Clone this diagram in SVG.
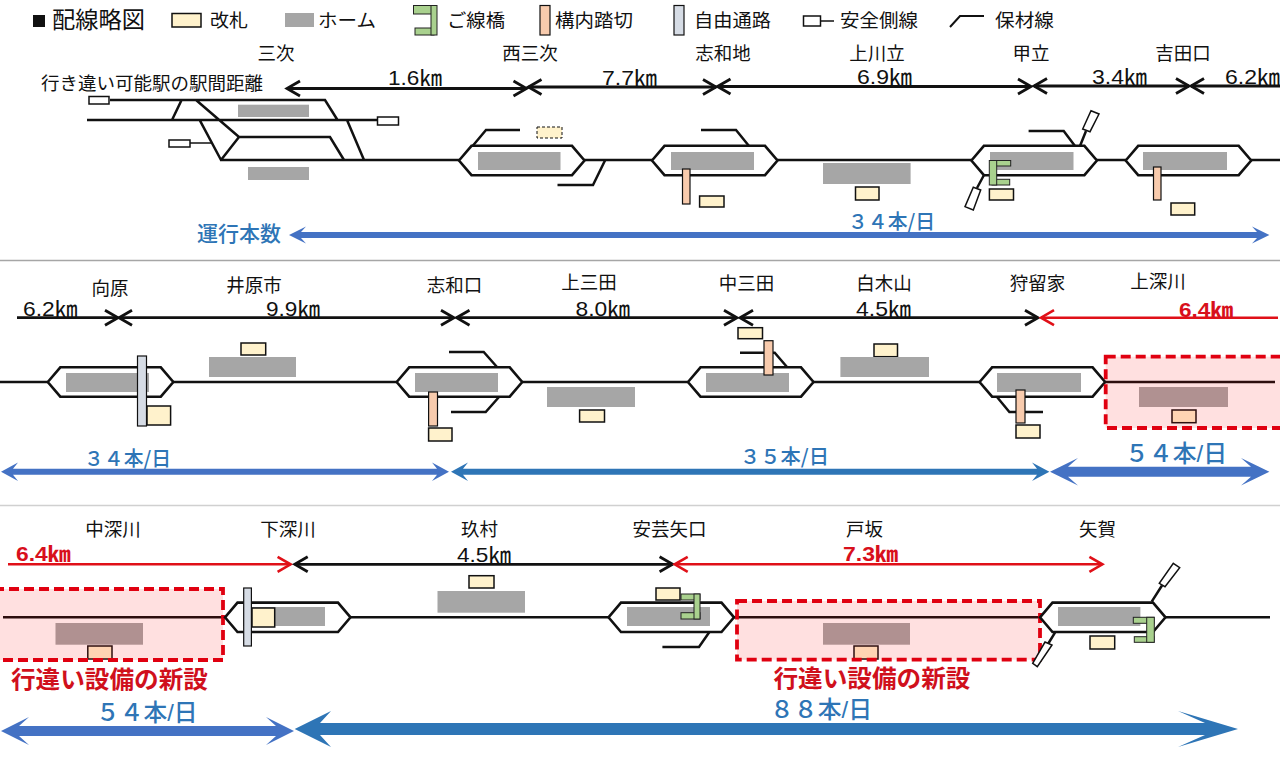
<svg xmlns="http://www.w3.org/2000/svg" width="1280" height="761" viewBox="0 0 1280 761">
<style>
text{font-family:"Noto Sans CJK JP","Noto Sans",sans-serif;fill:#111}
.st{font-size:18.5px;text-anchor:middle}
.lg{font-size:18.5px}
.km{font-family:"Liberation Sans","Noto Sans CJK JP",sans-serif;font-size:21px}
.red{fill:#d8101c;font-weight:700}
.rn{fill:#2e75b6;font-size:20px;font-weight:500}
.rb{font-family:"Liberation Sans","Noto Sans CJK JP",sans-serif;fill:#2e75b6;font-size:24px;font-weight:500}
.new{fill:#d0101c;font-size:24px;font-weight:700}
.tk{fill:#fff2cc;stroke:#111;stroke-width:1.5}
.pf{fill:#a6a6a6}
.cr{fill:#f8cbad;stroke:#111;stroke-width:1.2}
.wk{fill:#d6dce5;stroke:#111;stroke-width:1.2}
.br{fill:#a9d18e;stroke:#222;stroke-width:1}
.hx{fill:#fff;stroke:#111;stroke-width:2.6;stroke-linejoin:miter}
.tr{fill:none;stroke:#111;stroke-width:2.5}
.sf{fill:#fff;stroke:#111;stroke-width:1.5}
.dk{fill:none;stroke:#111;stroke-width:2.8}
.dr{fill:none;stroke:#e01018;stroke-width:2.6}
.nw{fill:#ff0000;fill-opacity:.12;stroke:#e00010;stroke-width:3.8;stroke-dasharray:10 5}
.b1{fill:#4472c4}
.b2{fill:#2e75b6}
.dv{stroke-width:1.5;fill:none}
</style>
<defs>
<marker id="ak" markerUnits="userSpaceOnUse" markerWidth="18" markerHeight="20" refX="15" refY="10" orient="auto-start-reverse" viewBox="0 0 18 20"><path d="M2,2.500L15,10L2,17.500" fill="none" stroke="#111" stroke-width="2.8"/></marker>
<marker id="ar" markerUnits="userSpaceOnUse" markerWidth="18" markerHeight="20" refX="15" refY="10" orient="auto-start-reverse" viewBox="0 0 18 20"><path d="M2,2.500L15,10L2,17.500" fill="none" stroke="#e01018" stroke-width="2.6"/></marker>
<polygon id="hex" class="hx" points="0,0 12.5,-14.7 113,-14.7 125.5,0 113,14.7 12.5,14.7"/>
</defs>
<rect width="1280" height="761" fill="#fff"/>
<path class="dv" stroke="#a6a6a6" d="M0,260.500H1280"/>
<path class="dv" stroke="#d0d0d0" d="M0,505.500H1280"/>

<g id="legend">
<rect x="33" y="15" width="12" height="12" fill="#111"/>
<text x="52" y="28" font-size="23" textLength="93" lengthAdjust="spacingAndGlyphs">配線略図</text>
<rect class="tk" x="172" y="13.500" width="29" height="13.500"/>
<text class="lg" x="210" y="27" textLength="38" lengthAdjust="spacingAndGlyphs">改札</text>
<rect class="pf" x="285" y="13" width="29" height="14"/>
<text class="lg" x="318" y="27" textLength="58" lengthAdjust="spacingAndGlyphs">ホーム</text>
<rect class="br" x="413.500" y="5.500" width="20.500" height="8.500"/>
<rect class="br" x="415" y="28" width="19" height="7"/>
<rect class="br" x="431" y="5.500" width="6" height="29.500"/>
<text class="lg" x="447" y="27" textLength="58" lengthAdjust="spacingAndGlyphs">ご線橋</text>
<rect class="cr" x="540" y="5.500" width="10" height="29.500" stroke-width="2"/>
<text class="lg" x="555" y="27" textLength="78" lengthAdjust="spacingAndGlyphs">構内踏切</text>
<rect class="wk" x="674" y="5.500" width="10" height="29.500" stroke-width="2"/>
<text class="lg" x="694" y="27" textLength="77" lengthAdjust="spacingAndGlyphs">自由通路</text>
<rect x="803.500" y="16" width="17" height="10" fill="#fff" stroke="#111" stroke-width="1.5"/>
<path d="M820,21H834" stroke="#111" stroke-width="1.5"/>
<text class="lg" x="840" y="27" textLength="78" lengthAdjust="spacingAndGlyphs">安全側線</text>
<path d="M950,27L960,16H984" fill="none" stroke="#111" stroke-width="2"/>
<text class="lg" x="995" y="27" textLength="59" lengthAdjust="spacingAndGlyphs">保材線</text>
</g>

<g id="connectors">
<path class="tr" d="M0,382H1275"/>
<path class="tr" d="M3,617.300H1270"/>
<path class="tr" d="M220,160H1280"/>
<path class="tr" d="M110,100H325L337.500,120M87,120H377M181.600,100L172,120M196,100L239,137H330L344,160M239,137L221,160M200,120.700L221,160M347,120L364,160"/>
<path d="M190,143H211" stroke="#111" stroke-width="1.5"/>
<path class="dk" marker-start="url(#ak)" marker-end="url(#ak)" d="M287,88.500H526.500"/>
<path class="dk" marker-start="url(#ak)" marker-end="url(#ak)" d="M528.500,87H716"/>
<path class="dk" marker-start="url(#ak)" marker-end="url(#ak)" d="M717.500,86.500H1031"/>
<path class="dk" marker-start="url(#ak)" marker-end="url(#ak)" d="M1034,86H1189"/>
<path class="dk" marker-start="url(#ak)" d="M1191,86H1280"/>
<path class="dk" marker-end="url(#ak)" d="M17,317.700H118"/>
<path class="dk" marker-start="url(#ak)" marker-end="url(#ak)" d="M119,317.700H454"/>
<path class="dk" marker-start="url(#ak)" marker-end="url(#ak)" d="M456.500,317.700H737"/>
<path class="dk" marker-start="url(#ak)" marker-end="url(#ak)" d="M740,317.700H1038"/>
<path class="dr" marker-start="url(#ar)" d="M1041,317.700H1278"/>
<path class="dr" marker-end="url(#ar)" d="M8,564.300H290.600"/>
<path class="dk" marker-start="url(#ak)" marker-end="url(#ak)" d="M294.700,564.300H672.600"/>
<path class="dr" marker-start="url(#ar)" marker-end="url(#ar)" d="M674.700,564.300H1102.400"/>
<polygon class="b1" points="289,235 306,226.500 301,232 1257,232 1252,226.500 1269.400,235 1252,243.500 1257,238 301,238 306,243.500"/>
<polygon class="b1" points="1,471.700 18,462.500 13,468.700 437,468.700 432,462.500 449,471.700 432,481 437,474.700 13,474.700 18,481"/>
<polygon class="b2" points="451,471.700 468,462.500 463,468.700 1037,468.700 1032,462.500 1049.400,471.700 1032,481 1037,474.700 463,474.700 468,481"/>
<polygon class="b1" points="1050,471.700 1078,458 1068,466.700 1251,466.700 1241,458 1269.400,471.700 1241,485.500 1251,476.700 1068,476.700 1078,485.500"/>
<polygon class="b1" points="1,731 29,717 19,726 276,726 266,717 294,731 266,745 276,736 19,736 29,745"/>
<polygon class="b2" points="294.700,729 331,711 320,723 1205,723 1178,711 1238,729 1178,747 1205,735 320,735 331,747"/>
</g>

<g id="labels">
<text x="41" y="90" font-size="18.500" textLength="222" lengthAdjust="spacingAndGlyphs">行き違い可能駅の駅間距離</text>
<text class="km" x="388" y="84.500" textLength="54" lengthAdjust="spacingAndGlyphs">1.6㎞</text>
<text class="km" x="602" y="84.500" textLength="55" lengthAdjust="spacingAndGlyphs">7.7㎞</text>
<text class="km" x="857" y="84" textLength="55" lengthAdjust="spacingAndGlyphs">6.9㎞</text>
<text class="km" x="1092" y="84" textLength="55" lengthAdjust="spacingAndGlyphs">3.4㎞</text>
<text class="km" x="1225" y="84" textLength="55" lengthAdjust="spacingAndGlyphs">6.2㎞</text>
<text class="km" x="23" y="316" textLength="54.500" lengthAdjust="spacingAndGlyphs">6.2㎞</text>
<text class="km" x="266" y="316" textLength="54" lengthAdjust="spacingAndGlyphs">9.9㎞</text>
<text class="km" x="575.500" y="316" textLength="54.500" lengthAdjust="spacingAndGlyphs">8.0㎞</text>
<text class="km" x="856" y="316" textLength="55" lengthAdjust="spacingAndGlyphs">4.5㎞</text>
<text class="km red" x="1179" y="317" textLength="54" lengthAdjust="spacingAndGlyphs">6.4㎞</text>
<text class="km red" x="16" y="561" textLength="54.600" lengthAdjust="spacingAndGlyphs">6.4㎞</text>
<text class="km" x="457" y="561.500" textLength="54" lengthAdjust="spacingAndGlyphs">4.5㎞</text>
<text class="km red" x="843" y="561" textLength="55" lengthAdjust="spacingAndGlyphs">7.3㎞</text>
<text x="197" y="241" font-size="21" font-weight="500" style="fill:#2e75b6" textLength="84" lengthAdjust="spacingAndGlyphs">運行本数</text>
<text class="rn" x="848" y="228.500" textLength="87" lengthAdjust="spacingAndGlyphs">３４本/日</text>
<text class="rn" x="84" y="466" textLength="87" lengthAdjust="spacingAndGlyphs">３４本/日</text>
<text class="rn" x="740" y="464" textLength="89" lengthAdjust="spacingAndGlyphs">３５本/日</text>
<text class="rb" x="1125" y="462" textLength="102" lengthAdjust="spacingAndGlyphs">５４本/日</text>
<text class="rb" x="96" y="720.500" textLength="101.500" lengthAdjust="spacingAndGlyphs">５４本/日</text>
<text class="rb" x="770" y="717.500" textLength="102" lengthAdjust="spacingAndGlyphs">８８本/日</text>
<text class="new" x="11" y="687.500" textLength="197" lengthAdjust="spacingAndGlyphs">行違い設備の新設</text>
<text class="new" x="773.500" y="686.500" textLength="197" lengthAdjust="spacingAndGlyphs">行違い設備の新設</text>
</g>

<g id="st-miyoshi">
<text class="st" x="276" y="59.500">三次</text>
<rect class="sf" x="89" y="96.500" width="20" height="7.500"/>
<rect class="sf" x="377.500" y="117" width="21" height="8"/>
<rect class="sf" x="169" y="140" width="21" height="7"/>
<rect class="pf" x="238" y="104.700" width="71" height="12.300"/>
<rect class="pf" x="248" y="167" width="61" height="13"/>
</g>
<g id="st-nishimiyoshi">
<text class="st" x="530" y="59.500">西三次</text>
<use href="#hex" x="459" y="160.500"/>
<rect class="pf" x="478" y="152" width="82.500" height="18"/>
<path class="tr" d="M472.600,146L486,130H520M605,160.500L593,185H557.500"/>
<rect x="537" y="127" width="25" height="11" fill="#fff2cc" stroke="#111" stroke-width="1" stroke-dasharray="3 2"/>
</g>
<g id="st-shiwachi">
<text class="st" x="723" y="59.500">志和地</text>
<use href="#hex" x="652" y="160.500"/>
<rect class="pf" x="671" y="152" width="83" height="18"/>
<path class="tr" d="M749,146L736,130H701"/>
<rect class="cr" x="682.500" y="169" width="7.500" height="35"/>
<rect class="tk" x="699.600" y="196" width="24.400" height="11"/>
</g>
<g id="st-kamikawadachi">
<text class="st" x="877" y="59.500">上川立</text>
<rect class="pf" x="823" y="163" width="87.600" height="21"/>
<rect class="tk" x="855.500" y="187" width="23.500" height="13"/>
</g>
<g id="st-koutachi">
<text class="st" x="1031" y="59.500">甲立</text>
<path class="tr" d="M1075,146L1063.700,131H1028.600M1080,146L1086,131M984,175L977,188"/>
<use href="#hex" x="971.400" y="160.500"/>
<rect class="pf" x="990" y="152" width="83.500" height="18"/>
<polygon class="sf" points="1091,110.700 1099,114 1090,131.700 1082.700,129"/>
<polygon class="sf" points="973.300,187.300 980.700,190 973.300,210 965,206.700"/>
<rect class="br" x="992" y="160.500" width="18.700" height="5.500"/>
<rect class="br" x="992" y="179.300" width="17.700" height="5.700"/>
<rect class="br" x="989.300" y="160.500" width="7.400" height="24.500"/>
<rect class="tk" x="989.400" y="189" width="24.100" height="11"/>
</g>
<g id="st-yoshidaguchi">
<text class="st" x="1183" y="59.500">吉田口</text>
<use href="#hex" x="1125.700" y="160.500"/>
<rect class="pf" x="1143" y="152" width="84" height="18"/>
<rect class="cr" x="1153.500" y="167" width="7.500" height="33"/>
<rect class="tk" x="1171" y="203" width="23.700" height="12"/>
</g>

<g id="st-mukaihara">
<text class="st" x="110" y="295">向原</text>
<use href="#hex" x="47.800" y="382"/>
<rect class="pf" x="66" y="373" width="83" height="19"/>
<rect class="wk" x="137.500" y="356" width="9" height="70"/>
<rect class="tk" x="147" y="406" width="23.600" height="19"/>
</g>
<g id="st-iharashi">
<text class="st" x="254" y="291.500">井原市</text>
<rect class="tk" x="241" y="343" width="24.700" height="12"/>
<rect class="pf" x="209" y="357" width="87" height="20"/>
</g>
<g id="st-shiwaguchi">
<text class="st" x="454.500" y="291.500">志和口</text>
<path class="tr" d="M497,367L483.700,352H449M499,397L485.700,412H451"/>
<use href="#hex" x="396.700" y="382"/>
<rect class="pf" x="415" y="373" width="83" height="19"/>
<rect class="cr" x="428.600" y="392" width="8.900" height="34"/>
<rect class="tk" x="428.600" y="428" width="23.400" height="13"/>
</g>
<g id="st-kamimita">
<text class="st" x="589" y="289">上三田</text>
<rect class="pf" x="547" y="387" width="88" height="20"/>
<rect class="tk" x="579.600" y="410" width="24.900" height="12"/>
</g>
<g id="st-nakamita">
<text class="st" x="746.500" y="290">中三田</text>
<path class="tr" d="M787,367L774.700,352.700H740"/>
<use href="#hex" x="688" y="382"/>
<rect class="pf" x="706" y="373" width="83" height="19"/>
<rect class="cr" x="764" y="340.700" width="9" height="34.300"/>
<rect class="tk" x="738" y="327.700" width="24.500" height="11"/>
</g>
<g id="st-shirakiyama">
<text class="st" x="884" y="290">白木山</text>
<rect class="tk" x="874" y="344" width="23.500" height="12.700"/>
<rect class="pf" x="840.400" y="357" width="88.600" height="20"/>
</g>
<g id="st-karusuga">
<text class="st" x="1037.500" y="290">狩留家</text>
<path class="tr" d="M997,397L1009.400,412H1043"/>
<use href="#hex" x="979.600" y="382"/>
<rect class="pf" x="997" y="373" width="84" height="19"/>
<rect class="cr" x="1016" y="390" width="9" height="33"/>
<rect class="tk" x="1016" y="425" width="24" height="13"/>
</g>
<g id="st-kamifukawa">
<text class="st" x="1158" y="288">上深川</text>
<rect class="pf" x="1139" y="387" width="89" height="20"/>
<rect class="tk" x="1172" y="410" width="24" height="12.700"/>
<rect class="nw" x="1105.700" y="356.700" width="180" height="71.300"/>
</g>

<g id="st-nakafukawa">
<text class="st" x="113" y="536">中深川</text>
<rect class="pf" x="55.500" y="623" width="87.500" height="21.700"/>
<rect class="tk" x="87.800" y="646" width="24.200" height="13"/>
<rect class="nw" x="-6" y="589" width="229" height="71"/>
</g>
<g id="st-shimofukawa">
<text class="st" x="288" y="536">下深川</text>
<use href="#hex" x="225" y="617.300"/>
<rect class="pf" x="243" y="607" width="82" height="19"/>
<rect class="tk" x="252" y="608" width="22.700" height="19"/>
<rect class="wk" x="243.700" y="588" width="7.700" height="58"/>
</g>
<g id="st-kumura">
<text class="st" x="479.600" y="536">玖村</text>
<rect class="tk" x="469" y="575.700" width="25" height="12.300"/>
<rect class="pf" x="437.500" y="591" width="87.500" height="21.700"/>
</g>
<g id="st-akiyaguchi">
<text class="st" x="669.500" y="536">安芸矢口</text>
<path class="tr" d="M709.400,632L699,647H662.400"/>
<use href="#hex" x="608.500" y="617.300"/>
<rect class="pf" x="627" y="607" width="83" height="19"/>
<rect class="tk" x="656" y="588" width="24" height="12"/>
<rect class="br" x="681" y="594" width="19" height="6"/>
<rect class="br" x="681" y="612.700" width="19" height="6.300"/>
<rect class="br" x="694" y="594" width="6" height="25"/>
</g>
<g id="st-tosaka">
<text class="st" x="864.500" y="536">戸坂</text>
<rect class="pf" x="823" y="623" width="87" height="21.700"/>
<rect class="tk" x="854" y="646" width="24" height="13"/>
<rect class="nw" x="737" y="601" width="303" height="58.700"/>
</g>
<g id="st-yaga">
<text class="st" x="1097.600" y="536">矢賀</text>
<path class="tr" d="M1151.700,601.700L1162,585.500M1055,632.700L1048,644"/>
<use href="#hex" x="1040" y="617.300"/>
<rect class="pf" x="1058" y="607" width="82.400" height="19"/>
<rect class="tk" x="1090" y="636" width="24.700" height="13"/>
<rect class="br" x="1133.300" y="617.300" width="20.700" height="6"/>
<rect class="br" x="1134.300" y="636.700" width="19.700" height="5.600"/>
<rect class="br" x="1146.700" y="617.300" width="7.600" height="25"/>
<polygon class="sf" points="1173.300,563.300 1179.700,567.700 1165,586.700 1159.300,583.300"/>
<polygon class="sf" points="1045,642 1052,645 1037.300,666.700 1032.700,663.300"/>
</g>
</svg>
